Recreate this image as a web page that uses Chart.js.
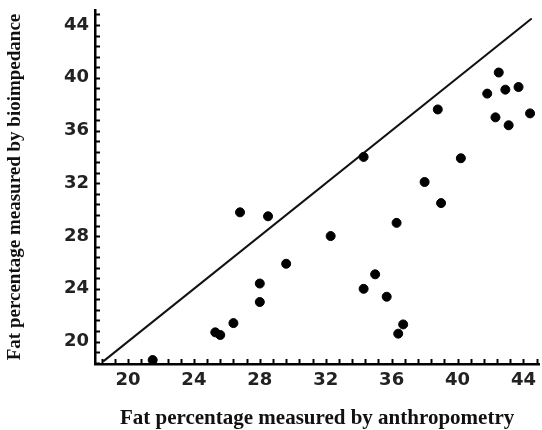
<!DOCTYPE html>
<html>
<head>
<meta charset="utf-8">
<script src="https://cdn.jsdelivr.net/npm/chart.js@4/dist/chart.umd.min.js"></script>
<style>
  html, body { margin: 0; padding: 0; background: #fff; }
  #wrap { width: 542px; height: 430px; }
</style>
</head>
<body>
<div id="wrap"><canvas id="scatterChart" width="542" height="430"></canvas></div>
<script>
// anthropometry (x) vs bioimpedance (y)
const anthropometry = [42.5, 41.8, 42.9, 43.7, 38.8, 44.4, 42.3, 43.1, 34.3, 40.2, 38.0, 39.0,
    36.3, 32.3, 35.0, 34.3, 35.7, 36.7, 36.4,
    26.8, 28.5, 29.6, 28.0, 28.0, 26.4, 25.3, 25.6, 21.5];
const bioimpedance = [40.4, 38.8, 39.1, 39.3, 37.6, 37.3, 37.0, 36.4, 34.0, 33.9, 32.1, 30.5,
    29.0, 28.0, 25.1, 24.0, 23.4, 21.3, 20.6,
    29.8, 29.5, 25.9, 24.4, 23.0, 21.4, 20.7, 20.5, 18.6];

// line of identity
const identityLine = [18.5, 44.5];

const xTickLabels = [20, 24, 28, 32, 36, 40, 44];
const yTickLabels = [20, 24, 28, 32, 36, 40, 44];
const minorStep = 0.8;

// small inward tick marks along both axes
const inwardTicks = {
    id: 'inwardTicks',
    afterDraw(chart) {
        const ctx = chart.ctx;
        const area = chart.chartArea;
        ctx.save();
        ctx.strokeStyle = '#000';
        ctx.lineWidth = 2;
        ['x', 'y'].forEach(id => {
            const scale = chart.scales[id];
            const vals = [];
            for (let v = 20; v >= scale.min; v -= minorStep) vals.push(v);
            for (let v = 20 + minorStep; v <= scale.max; v += minorStep) vals.push(v);
            vals.forEach(v => {
                const p = Math.round(scale.getPixelForValue(v)) + 0.5;
                ctx.beginPath();
                if (id === 'x') {
                    ctx.moveTo(p, area.bottom);
                    ctx.lineTo(p, area.bottom - 5);
                } else {
                    ctx.moveTo(area.left, p);
                    ctx.lineTo(area.left + 5, p);
                }
                ctx.stroke();
            });
        });
        ctx.restore();
    }
};

const points = anthropometry.map((x, i) => ({ x: x, y: bioimpedance[i] }));

const ctx = document.getElementById('scatterChart').getContext('2d');
new Chart(ctx, {
    type: 'scatter',
    data: {
        datasets: [
            {
                data: points,
                backgroundColor: '#000',
                borderColor: '#000',
                pointRadius: 4.5,
                pointHoverRadius: 4.5
            },
            {
                type: 'line',
                data: identityLine.map(v => ({ x: v, y: v })),
                borderColor: '#111',
                borderWidth: 2,
                pointRadius: 0,
                fill: false
            }
        ]
    },
    options: {
        responsive: false,
        animation: false,
        layout: { autoPadding: false, padding: { top: 10, right: 0, left: 0, bottom: 0 } },
        plugins: {
            legend: { display: false },
            tooltip: { enabled: false }
        },
        scales: {
            x: {
                type: 'linear',
                min: 18,
                max: 44.95,
                afterBuildTicks: scale => { scale.ticks = xTickLabels.map(v => ({ value: v })); },
                afterFit: scale => { scale.height = 66; },
                ticks: {
                    color: '#222',
                    padding: 6,
                    maxRotation: 0,
                    font: { family: 'DejaVu Sans', weight: 'bold', size: 18 }
                },
                grid: { display: false, drawTicks: false },
                border: { display: true, color: '#000', width: 2.5 },
                title: {
                    display: true,
                    text: 'Fat percentage measured by anthropometry',
                    color: '#111',
                    padding: { top: 26, bottom: -1 },
                    font: { family: 'Liberation Serif', weight: 'bold', size: 21 }
                }
            },
            y: {
                type: 'linear',
                min: 18.3,
                max: 45.14,
                afterBuildTicks: scale => { scale.ticks = yTickLabels.map(v => ({ value: v })); },
                afterFit: scale => {
                    scale.width = 95;
                    scale.paddingTop = 0;
                    scale.paddingBottom = 0;
                },
                ticks: {
                    color: '#222',
                    padding: 6,
                    font: { family: 'DejaVu Sans', weight: 'bold', size: 18 }
                },
                grid: { display: false, drawTicks: false },
                border: { display: true, color: '#000', width: 2.5 },
                title: {
                    display: true,
                    text: 'Fat percentage measured by bioimpedance',
                    color: '#111',
                    padding: { bottom: 10 },
                    font: { family: 'Liberation Serif', weight: 'bold', size: 19 }
                }
            }
        }
    },
    plugins: [inwardTicks]
});
</script>
</body>
</html>
